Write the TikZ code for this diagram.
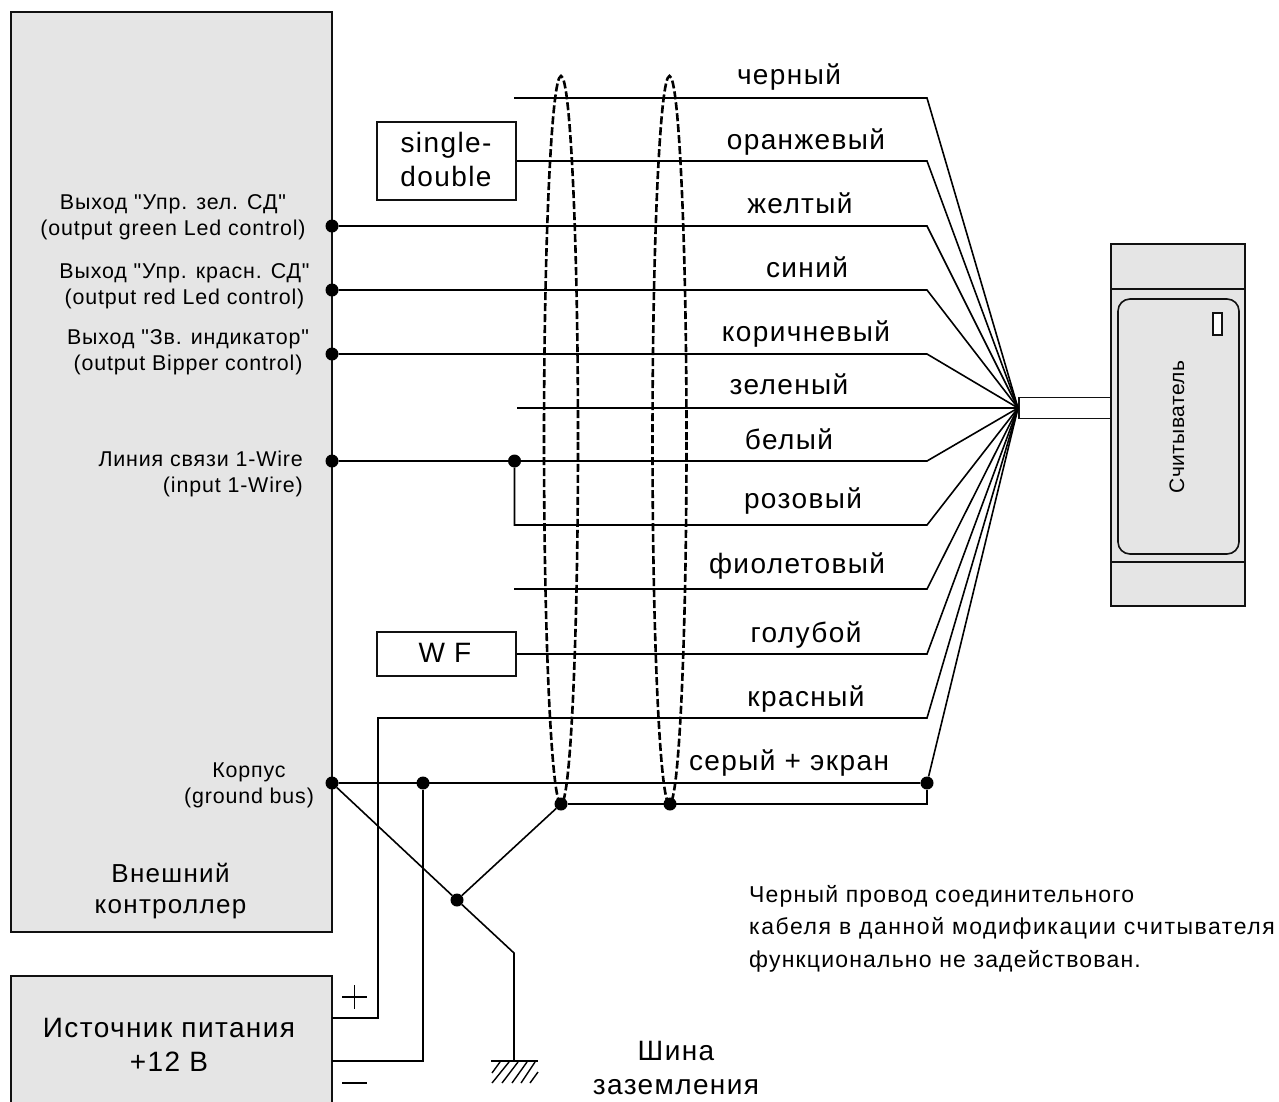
\documentclass[tikz,border=0pt]{standalone}
\usepackage{fontspec}
\setmainfont{Liberation Sans}[Ligatures=TeXOff]
\newfontfamily\wide{Liberation Sans}[Ligatures=TeXOff,LetterSpace=5]
\newfontfamily\smallsp{Liberation Sans}[Ligatures=TeXOff,LetterSpace=4]
\newfontfamily\notesp{Liberation Sans}[Ligatures=TeXOff,LetterSpace=5.2]
\newfontfamily\notewide{Liberation Sans}[Ligatures=TeXOff,LetterSpace=6.7]
\newfontfamily\readersp{Liberation Sans}[Ligatures=TeXOff,LetterSpace=2]
\usetikzlibrary{shapes.geometric}
\definecolor{panel}{HTML}{E5E5E5}
\definecolor{ink}{HTML}{111111}
\tikzset{
  panelbox/.style={draw=ink,line width=1.8pt,fill=panel,inner sep=0pt,minimum width=#1},
  whitebox/.style={draw=ink,line width=1.8pt,fill=white,inner sep=0pt,minimum width=139pt},
  wire/.style={draw=black,line width=1.6pt},
  thinline/.style={line width=1.1pt},
  hatchline/.style={line width=1.4pt},
  jdot/.style={circle,fill=black,inner sep=0pt,minimum size=13pt},
  shield/.style={draw=black,line width=2.6pt,dash pattern=on 8pt off 3pt,ellipse,inner sep=0pt,minimum width=34pt,minimum height=728pt},
  big/.style={font=\wide\fontsize{28}{33.5}\selectfont,align=center,inner sep=0pt},
  wirelabel/.style={font=\wide\fontsize{28}{33.5}\selectfont,inner sep=0pt,anchor=base},
  small/.style={font=\smallsp\fontsize{21.4}{26}\selectfont,align=center,inner sep=0pt},
  note/.style={font=\notesp\fontsize{23}{32.5}\selectfont,align=left,inner sep=0pt,anchor=north west},
}
\begin{document}
\begin{tikzpicture}[x=1pt,y=-1pt]
\useasboundingbox (0,0) rectangle (1279,1101);
\begin{scope}
\clip (0,0) rectangle (1279,1101);
\node[panelbox=321pt,minimum height=920pt] (ctrl) at (171.5,472) {};
\node[panelbox=321pt,minimum height=170pt] (psu) at (171.5,1061) {};
\end{scope}
\node[whitebox,minimum height=78pt] (sd) at (446.5,161) {};
\node[big] (sdt) at (446,159.5) {single-\\double};
\node[whitebox,minimum height=44pt] (wf) at (446.5,654) {};
\node[big] (wft) at (445,653) {W F};
% reader
\node[panelbox=134pt,minimum height=362pt] (reader) at (1178,425) {};
\coordinate (rt1) at (1111,289); \coordinate (rt2) at (1245,289);
\coordinate (rb1) at (1111,562); \coordinate (rb2) at (1245,562);
\draw[wire,draw=ink] (rt1) -- (rt2);
\draw[wire,draw=ink] (rb1) -- (rb2);
\node[draw=ink,line width=1.6pt,rounded corners=12pt,minimum width=121pt,minimum height=255pt,inner sep=0pt] (face) at (1178.5,426.5) {};
\node[draw=ink,line width=1.6pt,fill=white,minimum width=9pt,minimum height=22pt,inner sep=0pt] (led) at (1217.5,324) {};
\node[rotate=90,font=\readersp\fontsize{21}{24}\selectfont,inner sep=0pt] (readert) at (1177,427) {Считыватель};
\node[draw=ink,line width=1.8pt,fill=white,minimum width=92pt,minimum height=21pt,inner sep=0pt] (cable) at (1065,408) {};
\coordinate (fan) at (1018,408);
% junctions
\node[jdot] (d1) at (332,226) {};
\node[jdot] (d2) at (332,290) {};
\node[jdot] (d3) at (332,354) {};
\node[jdot] (d4) at (332,461) {};
\node[jdot] (d5) at (514.5,461) {};
\node[jdot] (d6) at (332,783) {};
\node[jdot] (d7) at (423,783) {};
\node[jdot] (d8) at (927,783) {};
\node[jdot] (d9) at (561,804) {};
\node[jdot] (d10) at (670,804) {};
\node[jdot] (d11) at (457,900) {};
% wires
\coordinate (e1) at (514,98);
\coordinate (e6) at (517,408);
\coordinate (e9) at (514,589);
\coordinate (e8) at (514.5,525);
\coordinate (e12) at (378,718);
\draw[wire] (e1) -- (927,98) -- (fan);
\draw[wire] (sd.east) -- (927,161) -- (fan);
\draw[wire] (d1) -- (927,226) -- (fan);
\draw[wire] (d2) -- (927,290) -- (fan);
\draw[wire] (d3) -- (927,354) -- (fan);
\draw[wire] (e6) -- (fan);
\draw[wire] (d4) -- (927,461) -- (fan);
\draw[wire] (d5) -- (e8) -- (927,525) -- (fan);
\draw[wire] (e9) -- (927,589) -- (fan);
\draw[wire] (wf.east) -- (927,654) -- (fan);
\coordinate (pp) at (332,1018);
\coordinate (pm) at (332,1061);
\coordinate (gk) at (514,953);
\coordinate (gnd) at (514,1061);
\coordinate (g1) at (491,1061);
\coordinate (g2) at (538,1061);
\draw[wire] (pp) -- (378,1018) -- (e12) -- (927,718) -- (fan);
\draw[wire] (d6) -- (d8) -- (fan);
\draw[wire] (pm) -- (423,1061) -- (d7);
\draw[wire] (d6) -- (d11) -- (gk) -- (gnd);
\draw[wire] (d11) -- (d9);
\draw[wire] (d9) -- (927,804) -- (d8);
% ground hatch
\draw[wire] (g1) -- (g2);
\draw[hatchline] (492,1073) -- (500,1062);
\draw[hatchline] (492,1083) -- (509,1062);
\draw[hatchline] (502,1083) -- (518,1062);
\draw[hatchline] (512,1083) -- (527,1062);
\draw[hatchline] (521,1083) -- (535,1062);
\draw[hatchline] (530,1083) -- (538,1072);
% shields
\node[shield] (s1) at (561,440) {};
\node[shield] (s2) at (669.5,440) {};
% + and -
\coordinate (p1) at (342,997); \coordinate (p2) at (367,997);
\coordinate (p3) at (354.5,985); \coordinate (p4) at (354.5,1009);
\coordinate (m1) at (342,1083); \coordinate (m2) at (367,1083);
\draw[thinline] (p1) -- (p2);
\draw[thinline] (p3) -- (p4);
\draw[thinline] (m1) -- (m2);
% colour labels
\node[wirelabel] (l1) at (789,84) {черный};
\node[wirelabel] (l2) at (806,149) {оранжевый};
\node[wirelabel] (l3) at (800,213) {желтый};
\node[wirelabel] (l4) at (807,277) {синий};
\node[wirelabel] (l5) at (806,341) {коричневый};
\node[wirelabel] (l6) at (789,394) {зеленый};
\node[wirelabel] (l7) at (789,449) {белый};
\node[wirelabel] (l8) at (803,508) {розовый};
\node[wirelabel] (l9) at (797,573) {фиолетовый};
\node[wirelabel] (l10) at (806,642) {голубой};
\node[wirelabel] (l11) at (806,706) {красный};
\node[wirelabel] (l12) at (789,770) {серый + экран};
% left labels
\node[small] (a1) at (173,217) {Выход "Упр. зел. СД"\\(output green Led control)};
\node[small] (a2) at (184.5,286) {Выход "Упр. красн. СД"\\(output red Led control)};
\node[small] (a3) at (188,352) {Выход "Зв. индикатор"\\(output Bipper control)};
\node[small,align=right,anchor=east] (a4) at (303,474) {Линия связи 1-Wire\\(input 1-Wire)};
\node[small] (a5) at (249,785) {Корпус\\(ground bus)};
\node[big,font=\wide\fontsize{26}{31.5}\selectfont] (a6) at (170.5,891) {Внешний\\контроллер};
\node[big] (a7) at (169,1045) {Источник питания\\+12 В};
\node[big] (a8) at (676,1068) {Шина\\заземления};
\node[note] (n) at (749,885) {Черный провод соединительного\\{\notewide кабеля в данной модификации считывателя}\\функционально не задействован.};
\end{tikzpicture}
\end{document}
